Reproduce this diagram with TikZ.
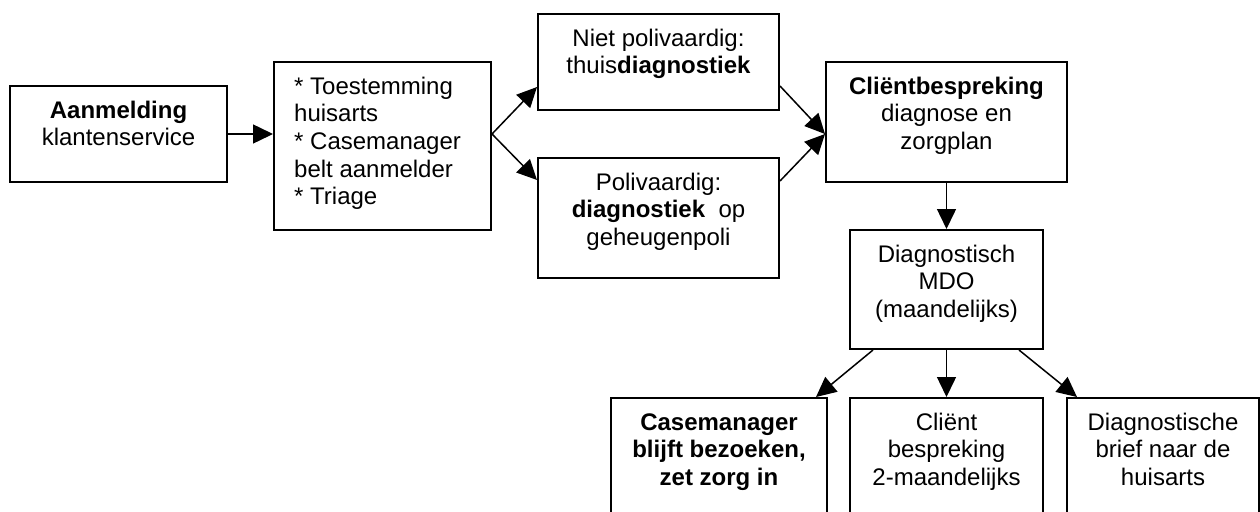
\documentclass[tikz,border=0pt]{standalone}
\usepackage{fontspec}
\setmainfont{Liberation Sans}
\usetikzlibrary{arrows.meta,calc}
\begin{document}
\begin{tikzpicture}[x=1pt,y=-1pt,
  box/.style={draw, line width=2pt, inner sep=0pt},
  txt/.style={anchor=north, inner sep=0pt, align=center,
    font=\fontsize{24}{27.6}\selectfont},
  txtl/.style={txt, anchor=north west, align=left},
  flow/.style={line width=1.5pt, -{Triangle[length=20pt,width=19pt]}}]
\useasboundingbox (0,0) rectangle (1260,511);
\clip (0,0) rectangle (1260,511);
\fill[white] (0,0) rectangle (1260,511);

% boxes
\node[box, minimum width=217pt, minimum height=96pt]  (b1) at (118.5,134) {};
\node[box, minimum width=217pt, minimum height=168pt] (b2) at (382.5,146) {};
\node[box, minimum width=241pt, minimum height=96pt]  (b3) at (658.5,62) {};
\node[box, minimum width=241pt, minimum height=120pt] (b4) at (658.5,218) {};
\node[box, minimum width=241pt, minimum height=120pt] (b5) at (946.5,122) {};
\node[box, minimum width=193pt, minimum height=119pt] (b6) at (946.5,289.5) {};
\node[box, minimum width=216pt, minimum height=142pt] (b7) at (719,469) {};
\node[box, minimum width=193pt, minimum height=142pt] (b8) at (946.5,469) {};
\node[box, minimum width=192pt, minimum height=142pt] (b9) at (1163,469) {};

% texts
\node[txt] (t1) at ([yshift=-13.7pt]b1.north) {\strut\textbf{Aanmelding}\\klantenservice};
\node[txtl] (t2) at ([xshift=21pt,yshift=-13.7pt]b2.north west)
  {\strut* Toestemming\\huisarts\\* Casemanager\\belt aanmelder\\* Triage};
\node[txt] (t3) at ([yshift=-13.7pt]b3.north) {\strut Niet polivaardig:\\thuis\textbf{diagnostiek}};
\node[txt] (t4) at ([yshift=-13.7pt]b4.north) {\strut Polivaardig:\\\textbf{diagnostiek}~ op\\geheugenpoli};
\node[txt] (t5) at ([yshift=-13.7pt]b5.north) {\strut\textbf{Cliëntbespreking}\\diagnose en\\zorgplan};
\node[txt] (t6) at ([yshift=-13.7pt]b6.north) {\strut Diagnostisch\\MDO\\(maandelijks)};
\node[txt] (t7) at ([yshift=-13.7pt]b7.north) {\strut\textbf{Casemanager}\\\textbf{blijft bezoeken,}\\\textbf{zet zorg in}};
\node[txt] (t8) at ([yshift=-13.7pt]b8.north) {\strut Cliënt\\bespreking\\2-maandelijks};
\node[txt] (t9) at ([yshift=-13.7pt]b9.north) {\strut Diagnostische\\brief naar de\\huisarts};

% connectors
\draw[flow] (b1.east) -- (b1.east -| b2.west);
\draw[flow] (b1.east -| b2.east) -- ([yshift=-25pt]b3.west);
\draw[flow] (b1.east -| b2.east) -- ([yshift=38pt]b4.west);
\draw[flow] ([yshift=-24pt]b3.east) -- (b1.east -| b5.west);
\draw[flow] ([yshift=37pt]b4.east) -- (b1.east -| b5.west);
\draw[flow] (b5.south) -- (b6.north);
\draw[flow] ([xshift=24pt]b6.south west) -- ([xshift=-12pt]b7.north east);
\draw[flow] (b6.south) -- (b8.north);
\draw[flow] ([xshift=-25pt]b6.south east) -- ([xshift=11pt]b9.north west);
\end{tikzpicture}
\end{document}
